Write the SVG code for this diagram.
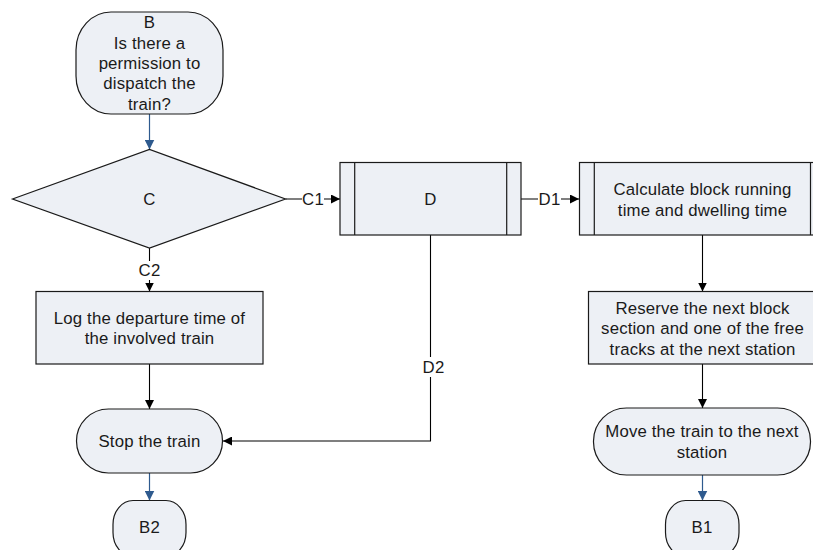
<svg xmlns="http://www.w3.org/2000/svg" width="813" height="550" viewBox="0 0 813 550">
  <style>
    .shape { fill: #EDF0F5; stroke: #1A1A1A; stroke-width: 1.2; }
    .txt { font-family: "Liberation Sans", Arial, sans-serif; font-size: 16.8px; letter-spacing: 0.15px; fill: #1A1A1A; text-anchor: middle; dominant-baseline: central; }
    .flow { fill: none; stroke: #000; stroke-width: 1.1; }
    .flow-blue { fill: none; stroke: #2E5A8E; stroke-width: 1.2; }
    .lbl-bg { fill: #fff; }
  </style>
  <defs>
    <marker id="arrow" viewBox="0 0 10 10" refX="10" refY="5" markerWidth="9" markerHeight="9" markerUnits="userSpaceOnUse" orient="auto">
      <path d="M0,0 L10,5 L0,10 Z" fill="#000"/>
    </marker>
    <marker id="arrow-blue" viewBox="0 0 10 10" refX="10" refY="5" markerWidth="10" markerHeight="10" markerUnits="userSpaceOnUse" orient="auto">
      <path d="M0,0 L10,5 L0,10 Z" fill="#2E5A8E"/>
    </marker>
  </defs>

  <rect width="813" height="550" fill="#fff"/>

  <!-- connectors -->
  <g id="connectors">
    <line class="flow-blue" x1="149.5" y1="114" x2="149.5" y2="149.5" marker-end="url(#arrow-blue)"/>
    <!-- C2 -->
    <line class="flow" x1="149.5" y1="248" x2="149.5" y2="291.5" marker-end="url(#arrow)"/>
    <rect class="lbl-bg" x="137" y="261" width="25" height="19"/>
    <text class="txt" x="149.5" y="270.5">C2</text>
    <!-- C1 -->
    <line class="flow" x1="285.5" y1="199" x2="340" y2="199" marker-end="url(#arrow)"/>
    <rect class="lbl-bg" x="302" y="190" width="22" height="18"/>
    <text class="txt" x="313" y="199.5">C1</text>
    <!-- D1 -->
    <line class="flow" x1="521" y1="199" x2="579" y2="199" marker-end="url(#arrow)"/>
    <rect class="lbl-bg" x="538" y="190" width="23" height="18"/>
    <text class="txt" x="549.5" y="199.5">D1</text>
    <!-- D2 -->
    <polyline class="flow" points="430.5,235 430.5,441 223,441" marker-end="url(#arrow)"/>
    <rect class="lbl-bg" x="421" y="357" width="25" height="20"/>
    <text class="txt" x="433.5" y="367">D2</text>
    <!-- straight flows -->
    <line class="flow" x1="149.5" y1="364" x2="149.5" y2="409" marker-end="url(#arrow)"/>
    <line class="flow-blue" x1="149.5" y1="473" x2="149.5" y2="500.5" marker-end="url(#arrow-blue)"/>
    <line class="flow" x1="702.5" y1="235" x2="702.5" y2="291.5" marker-end="url(#arrow)"/>
    <line class="flow" x1="702.5" y1="364" x2="702.5" y2="408" marker-end="url(#arrow)"/>
    <line class="flow-blue" x1="702.5" y1="475" x2="702.5" y2="500.5" marker-end="url(#arrow-blue)"/>
  </g>

  <g id="node-B">
    <rect class="shape" x="76" y="12" width="147" height="102" rx="35" ry="38"/>
    <text class="txt" x="149.5" y="22">B</text>
    <text class="txt" x="149.5" y="43">Is there a</text>
    <text class="txt" x="149.5" y="63.5">permission to</text>
    <text class="txt" x="149.5" y="83.5">dispatch the</text>
    <text class="txt" x="149.5" y="104">train?</text>
  </g>

  <g id="node-C">
    <polygon class="shape" points="12.5,199 149.5,149.5 285.5,199 149.5,248"/>
    <text class="txt" x="149.5" y="199.5">C</text>
  </g>

  <g id="node-D">
    <rect class="shape" x="340" y="162.5" width="181" height="72.5"/>
    <line class="shape" x1="354.7" y1="162.5" x2="354.7" y2="235"/>
    <line class="shape" x1="506.7" y1="162.5" x2="506.7" y2="235"/>
    <text class="txt" x="430.5" y="199.5">D</text>
  </g>

  <g id="node-calc">
    <rect class="shape" x="579.5" y="162.5" width="246" height="72.5"/>
    <line class="shape" x1="594.3" y1="162.5" x2="594.3" y2="235"/>
    <line class="shape" x1="810.5" y1="162.5" x2="810.5" y2="235"/>
    <text class="txt" x="702.5" y="189.5">Calculate block running</text>
    <text class="txt" x="702.5" y="210.5">time and dwelling time</text>
  </g>

  <g id="node-log">
    <rect class="shape" x="36" y="291.5" width="227" height="72.5"/>
    <text class="txt" x="149.5" y="318.5">Log the departure time of</text>
    <text class="txt" x="149.5" y="338.5">the involved train</text>
  </g>

  <g id="node-reserve">
    <rect class="shape" x="588.5" y="291.5" width="229" height="72.5"/>
    <text class="txt" x="702.5" y="308">Reserve the next block</text>
    <text class="txt" x="702.5" y="328.5">section and one of the free</text>
    <text class="txt" x="702.5" y="349">tracks at the next station</text>
  </g>

  <g id="node-stop">
    <rect class="shape" x="76.5" y="409" width="146" height="64" rx="32" ry="32"/>
    <text class="txt" x="149.5" y="441.5">Stop the train</text>
  </g>

  <g id="node-move">
    <rect class="shape" x="593.5" y="408" width="217" height="67" rx="33" ry="33"/>
    <text class="txt" x="702" y="431.5">Move the train to the next</text>
    <text class="txt" x="702" y="452.5">station</text>
  </g>

  <g id="node-B2">
    <rect class="shape" x="113" y="500.5" width="73" height="56" rx="20" ry="24"/>
    <text class="txt" x="149.5" y="527">B2</text>
  </g>

  <g id="node-B1">
    <rect class="shape" x="665.5" y="500.5" width="73.5" height="56" rx="20" ry="24"/>
    <text class="txt" x="702" y="527">B1</text>
  </g>
</svg>
